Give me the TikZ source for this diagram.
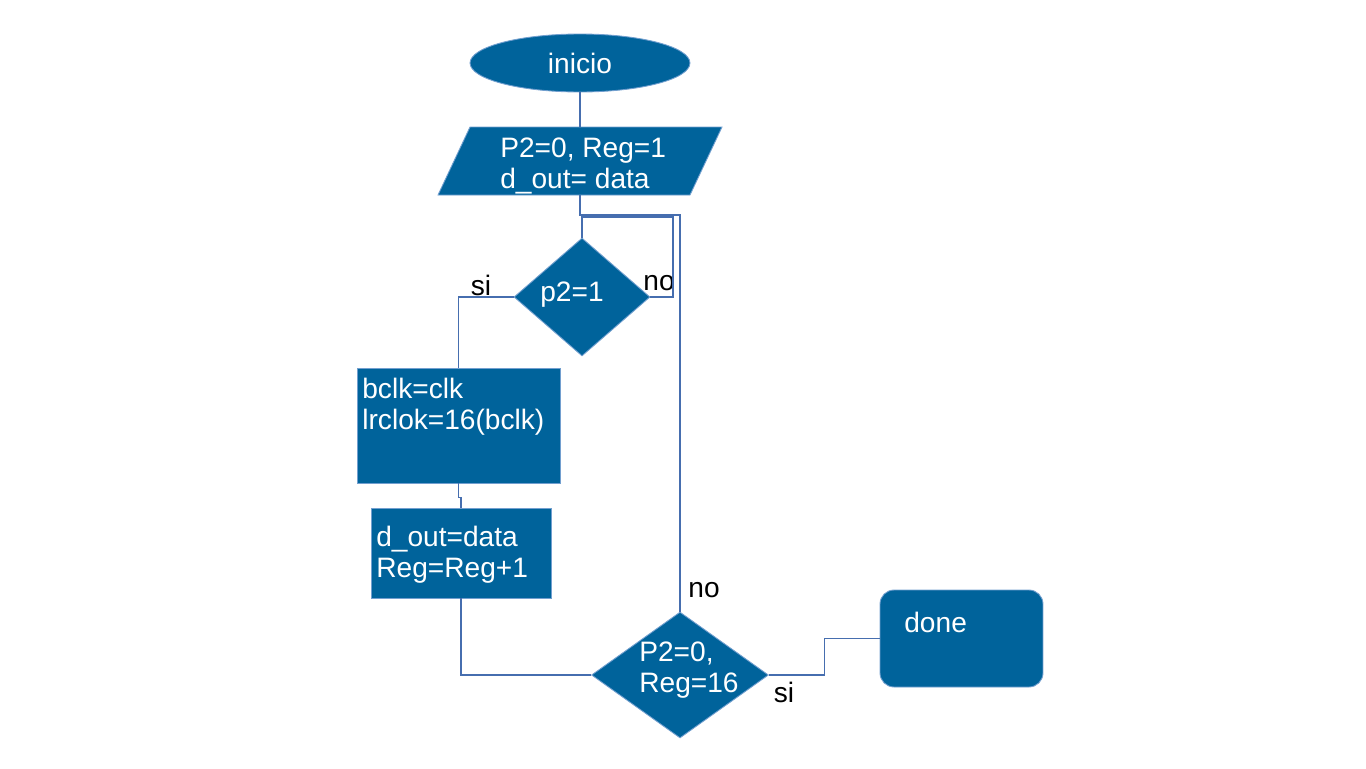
\documentclass[tikz,border=0pt]{standalone}
\usepackage{fontspec}
\setmainfont{Liberation Sans}
\usetikzlibrary{calc,positioning,shapes.geometric}
\definecolor{boxblue}{RGB}{0,99,155}
\definecolor{edgeblue}{RGB}{114,159,207}
\definecolor{lineblue}{RGB}{70,110,175}

\begin{document}
\begin{tikzpicture}[x=0.02cm,y=-0.02cm,
    shapebox/.style={fill=boxblue,draw=edgeblue,line width=0.5pt,text=white,inner sep=0pt},
    flowline/.style={draw=lineblue,line width=0.6pt},
    txt/.style={font=\fontsize{16}{17.6}\selectfont,inner sep=0pt},
    boxtext/.style={txt,text=white,align=left,anchor=west}]
    \useasboundingbox (0,0) rectangle (1366,768);
    % shapes
    \node[shapebox,txt,ellipse,minimum width=4.4cm,minimum height=1.16cm] (start) at (580,63) {inicio};
    \draw[shapebox] (470,127) -- (722,127) -- (690,195) -- (438,195) -- cycle;
    \coordinate (inputtop) at (580,127);
    \coordinate (inputbottom) at (580,195);
    \node[shapebox,diamond,minimum width=2.72cm,minimum height=2.36cm] (check1) at (582,297) {};
    \node[shapebox,rectangle,minimum width=4.06cm,minimum height=2.3cm] (box1) at (458.5,425.5) {};
    \node[shapebox,rectangle,minimum width=3.6cm,minimum height=1.8cm] (box2) at (461,553) {};
    \node[shapebox,diamond,minimum width=3.54cm,minimum height=2.52cm] (check2) at (680,675) {};
    \node[shapebox,rectangle,rounded corners=0.28cm,minimum width=3.26cm,minimum height=1.94cm] (done) at (961.5,638.5) {};
    % texts
    \node[boxtext] (inputtxt) at (500,166) {P2=0, Reg=1\\d\_out= data};
    \node[boxtext,anchor=center] (check1txt) at (572,295) {p2=1};
    \node[boxtext] (box1txt) at (362,407) {bclk=clk\\lrclok=16(bclk)};
    \node[boxtext] (box2txt) at (376,555) {d\_out=data\\Reg=Reg+1};
    \node[boxtext] (check2txt) at (639,670) {P2=0,\\Reg=16};
    \node[boxtext] (donetxt) at (904,622) {done};
    \node[txt] (si1) at (481,285) {si};
    \node[txt] (no1) at (659,283) {no};
    \node[txt] (no2) at (704,590) {no};
    \node[txt] (si2) at (784,692) {si};
    % connectors
    \coordinate (loop) at (673,217);
    \draw[flowline] (start.south) -- (inputtop);
    \draw[flowline] (inputbottom) -- ++(0,20) -| (check2.north);
    \draw[flowline] (check1.east) -| (loop) -| (check1.north);
    \draw[flowline] (check1.west) -| (box1.north);
    \draw[flowline] (box1.south) -- ++(0,14) -| (box2.north);
    \draw[flowline] (box2.south) |- (check2.west);
    \draw[flowline] (check2.east) -- ++(56,0) |- (done.west);
\end{tikzpicture}
\end{document}
